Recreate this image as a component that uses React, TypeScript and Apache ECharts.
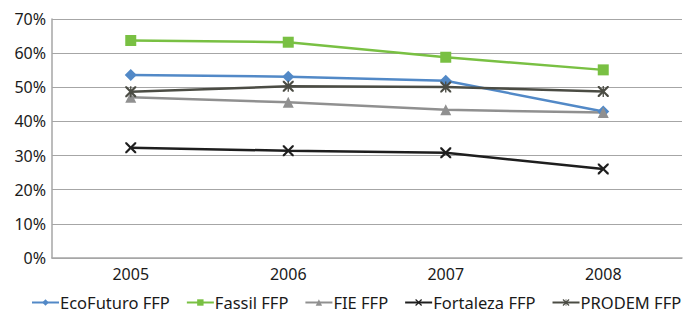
import React, { useEffect, useRef } from "react";
import * as echarts from "echarts";

const years = ["2005", "2006", "2007", "2008"];
const ecoFuturo = [53.6, 53.1, 51.9, 42.9];
const fassil = [63.7, 63.2, 58.8, 55.1];
const fie = [47.1, 45.6, 43.4, 42.6];
const fortaleza = [32.3, 31.4, 30.8, 26.1];
const prodem = [48.7, 50.3, 50.1, 48.8];
const yTicks = [0, 10, 20, 30, 40, 50, 60, 70];

const X_PATH =
  "path://M0,0 L1.4,0 L5,3.6 L8.6,0 L10,0 L10,1.4 L6.4,5 L10,8.6 L10,10 L8.6,10 L5,6.4 L1.4,10 L0,10 L0,8.6 L3.6,5 L0,1.4 Z";
const STAR_PATH =
  "path://M0,0 L1.4,0 L4.4,3 L4.4,0 L5.6,0 L5.6,3 L8.6,0 L10,0 L10,1.4 L6.4,5 L10,8.6 L10,10 L8.6,10 L5.6,7 L5.6,10 L4.4,10 L4.4,7 L1.4,10 L0,10 L0,8.6 L3.6,5 L0,1.4 Z";

export default function App() {
  const ref = useRef<HTMLDivElement>(null);
  useEffect(() => {
    if (!ref.current) return;
    const chart = echarts.init(ref.current, undefined, { renderer: "svg" });
    const font = "'Noto Sans', sans-serif";
    const mk = (name: string, data: number[], color: string, symbol: string, size: number) => ({
      name,
      type: "line",
      data,
      symbol,
      symbolSize: size,
      lineStyle: { color, width: 2.5 },
      itemStyle: { color },
      emphasis: { disabled: true },
    });
    chart.setOption({
      animation: false,
      textStyle: { fontFamily: font },
      grid: { left: 52, right: 2, top: 19, bottom: 58, containLabel: false },
      xAxis: {
        type: "category",
        data: years,
        boundaryGap: true,
        axisLine: { lineStyle: { color: "#A6A6A6", width: 1.5 } },
        axisTick: { show: false },
        axisLabel: { color: "#1a1a1a", fontSize: 16, fontFamily: font, margin: 8 },
      },
      yAxis: {
        type: "value",
        min: 0,
        max: 70,
        interval: 10,
        axisLine: { show: true, lineStyle: { color: "#A6A6A6", width: 1.5 } },
        axisTick: { show: false },
        splitLine: { lineStyle: { color: "#A6A6A6", width: 1.2 } },
        axisLabel: {
          color: "#1a1a1a",
          fontSize: 16,
          fontFamily: font,
          margin: 6,
          formatter: (v: number) => (yTicks.includes(v) ? v + "%" : ""),
        },
      },
      legend: {
        bottom: 5,
        left: 31,
        width: 660,
        padding: 0,
        itemGap: 16,
        itemWidth: 27,
        itemHeight: 8,
        textStyle: { color: "#1a1a1a", fontSize: 16.5, fontFamily: font, padding: [0, 0, 0, -4] },
      },
      series: [
        mk("EcoFuturo FFP", ecoFuturo, "#5289C7", "diamond", 12),
        mk("Fassil FFP", fassil, "#79C043", "rect", 11),
        mk("FIE FFP", fie, "#909090", "triangle", 11),
        mk("Fortaleza FFP", fortaleza, "#1E1E1E", X_PATH, 11),
        mk("PRODEM FFP", prodem, "#4B4C44", STAR_PATH, 11),
      ],
    });
    return () => chart.dispose();
  }, []);
  return <div ref={ref} style={{ width: 684, height: 316, position: "absolute", left: 0, top: 0 }} />;
}
